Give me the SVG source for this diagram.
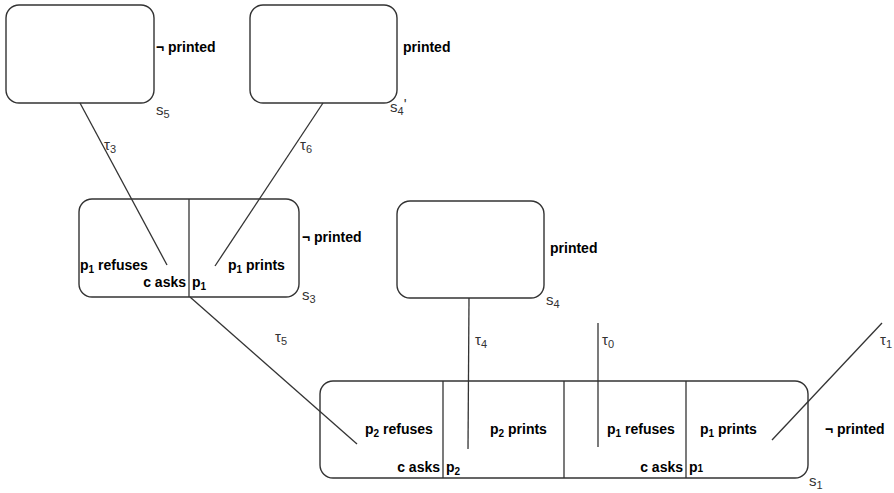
<svg xmlns="http://www.w3.org/2000/svg" width="894" height="493" viewBox="0 0 894 493">
<style>
.box{fill:#fff;stroke:#333;stroke-width:1.4}
.ln{stroke:#333;stroke-width:1.3;fill:none}
.b{font-family:"Liberation Sans",Arial,sans-serif;font-size:14px;font-weight:bold;fill:#000}
.n{font-family:"Liberation Sans",Arial,sans-serif;font-size:15px;fill:#333}
.sub{font-size:10px}
.n .sub{font-size:11px}
</style>
<rect width="894" height="493" fill="#fff"/>
<g id="s5">
<rect class="box" x="6" y="5" width="148" height="98" rx="13"/>
<text class="b" x="156" y="52">¬ printed</text>
<text class="n" x="156" y="115">s<tspan class="sub" dy="3">5</tspan></text>
</g>
<g id="s4p">
<rect class="box" x="250" y="5" width="147" height="98" rx="13"/>
<text class="b" x="403" y="52">printed</text>
<text class="n" x="390" y="112">s<tspan class="sub" dy="3">4</tspan><tspan dy="-6">'</tspan></text>
</g>
<g id="s3">
<rect class="box" x="79" y="199" width="220" height="98" rx="13"/>
<line class="ln" x1="189" y1="199" x2="189" y2="297"/>
<text class="b" x="80" y="270">p<tspan class="sub" dy="3">1</tspan><tspan dy="-3"> refuses</tspan></text>
<text class="b" x="228" y="270">p<tspan class="sub" dy="3">1</tspan><tspan dy="-3"> prints</tspan></text>
<text class="b" x="186" y="287" text-anchor="end">c asks</text>
<text class="b" x="192" y="287">p<tspan class="sub" dy="3">1</tspan></text>
<text class="b" x="302" y="242">¬ printed</text>
<text class="n" x="302" y="300">s<tspan class="sub" dy="3">3</tspan></text>
</g>
<g id="s4">
<rect class="box" x="397" y="201" width="147" height="97" rx="13"/>
<text class="b" x="550" y="253">printed</text>
<text class="n" x="546" y="305">s<tspan class="sub" dy="3">4</tspan></text>
</g>
<g id="s1">
<rect class="box" x="320" y="381" width="488" height="97" rx="13"/>
<line class="ln" x1="443" y1="381" x2="443" y2="478"/>
<line class="ln" x1="564" y1="381" x2="564" y2="478"/>
<line class="ln" x1="686" y1="381" x2="686" y2="478"/>
<text class="b" x="365" y="434">p<tspan class="sub" dy="3">2</tspan><tspan dy="-3"> refuses</tspan></text>
<text class="b" x="490" y="434">p<tspan class="sub" dy="3">2</tspan><tspan dy="-3"> prints</tspan></text>
<text class="b" x="440" y="472" text-anchor="end">c asks</text>
<text class="b" x="446" y="472">p<tspan class="sub" dy="3">2</tspan></text>
<text class="b" x="607" y="434">p<tspan class="sub" dy="3">1</tspan><tspan dy="-3"> refuses</tspan></text>
<text class="b" x="700" y="434">p<tspan class="sub" dy="3">1</tspan><tspan dy="-3"> prints</tspan></text>
<text class="b" x="683" y="472" text-anchor="end">c asks</text>
<text class="b" x="689" y="472">p<tspan class="sub">1</tspan></text>
<text class="b" x="825" y="434">¬ printed</text>
<text class="n" x="809" y="486">s<tspan class="sub" dy="3">1</tspan></text>
</g>
<g id="connectors">
<line class="ln" x1="80" y1="103" x2="167" y2="265"/>
<text class="n" x="104" y="150">τ<tspan class="sub" dy="3">3</tspan></text>
<line class="ln" x1="323" y1="103" x2="215" y2="266"/>
<text class="n" x="300" y="150">τ<tspan class="sub" dy="3">6</tspan></text>
<line class="ln" x1="190" y1="297" x2="357" y2="444"/>
<text class="n" x="275" y="342">τ<tspan class="sub" dy="3">5</tspan></text>
<line class="ln" x1="469" y1="298" x2="468" y2="449"/>
<text class="n" x="475" y="345">τ<tspan class="sub" dy="3">4</tspan></text>
<line class="ln" x1="598" y1="323" x2="598" y2="447"/>
<text class="n" x="602" y="345">τ<tspan class="sub" dy="3">0</tspan></text>
<line class="ln" x1="882" y1="323" x2="772" y2="440"/>
<text class="n" x="880" y="345">τ<tspan class="sub" dy="3">1</tspan></text>
</g>
</svg>
